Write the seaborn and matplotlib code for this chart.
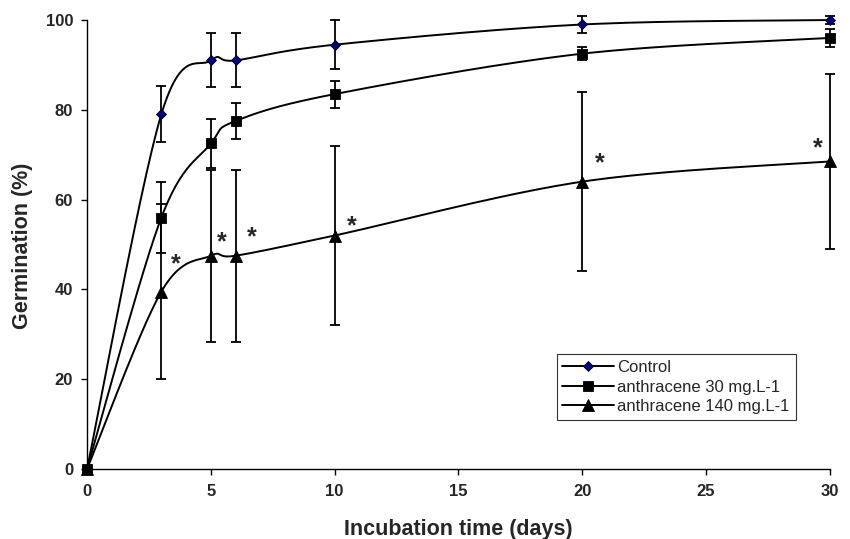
import numpy as np
import pandas as pd
import matplotlib
matplotlib.use("Agg")
import matplotlib.pyplot as plt
import seaborn as sns

# Data
days = [0, 3, 5, 6, 10, 20, 30]
control = [0, 79, 91, 91, 94.5, 99, 100]
control_err = [0, 6.2, 6, 6, 5.5, 1.8, 0.8]
anth30 = [0, 56, 72.5, 77.5, 83.5, 92.5, 96]
anth30_err = [0, 8, 5.5, 4, 3, 1.5, 2]
anth140 = [0, 39.5, 47.5, 47.5, 52, 64, 68.5]
anth140_err = [0, 19.5, 19.2, 19.2, 20, 20, 19.5]
star_x = [3.6, 5.45, 6.65, 10.7, 20.7, 29.5]
star_y = [45.5, 50.5, 51.5, 54, 68, 71.5]

series = [
    ("Control", control, control_err, "D", "#000080", 4.8),
    ("anthracene 30 mg.L-1", anth30, anth30_err, "s", "black", 7.5),
    ("anthracene 140 mg.L-1", anth140, anth140_err, "^", "black", 8),
]


def smooth(x, y, n=30):
    """Excel-like smoothed line (Catmull-Rom bezier)."""
    x = np.asarray(x, float)
    y = np.asarray(y, float)
    px = np.concatenate([[x[0]], x, [x[-1]]])
    py = np.concatenate([[y[0]], y, [y[-1]]])
    xs, ys = [], []
    t = np.linspace(0, 1, n)
    for i in range(1, len(px) - 2):
        p0 = np.array([px[i], py[i]])
        p3 = np.array([px[i + 1], py[i + 1]])
        c1 = p0 + (np.array([px[i + 1], py[i + 1]]) - np.array([px[i - 1], py[i - 1]])) / 6
        c2 = p3 - (np.array([px[i + 2], py[i + 2]]) - p0) / 6
        b = ((1 - t) ** 3)[:, None] * p0 + (3 * (1 - t) ** 2 * t)[:, None] * c1 \
            + (3 * (1 - t) * t ** 2)[:, None] * c2 + (t ** 3)[:, None] * p3
        xs.extend(b[:, 0])
        ys.extend(b[:, 1])
    return np.array(xs), np.array(ys)


sns.set_style("white")
plt.rcParams["font.family"] = ["Liberation Sans", "DejaVu Sans"]

fig = plt.figure(figsize=(8.5, 5.39), dpi=100)
ax = fig.add_axes([0.1024, 0.1299, 0.874, 0.833])

handles = []
for name, vals, err, mk, col, ms in series:
    sx, sy = smooth(days, vals)
    df = pd.DataFrame({"x": sx, "y": sy})
    sns.lineplot(data=df, x="x", y="y", ax=ax, color="black", lw=1.4,
                 sort=False, estimator=None)
    eb = ax.errorbar(days, vals, yerr=err, fmt="none", ecolor="black",
                     elinewidth=1.3, capsize=3.6, capthick=1.3, zorder=3)
    for art in eb.lines[1] + eb.lines[2]:
        art.set_clip_on(False)
    ax.plot(days, vals, linestyle="none", marker=mk, markersize=ms,
            markerfacecolor=col, markeredgecolor="black", markeredgewidth=0.6,
            zorder=4, clip_on=False)
    h, = ax.plot([], [], color="black", lw=1.4, marker=mk, markersize=ms,
                 markerfacecolor=col, markeredgecolor="black",
                 markeredgewidth=0.6, label=name)
    handles.append(h)

for ln in ax.get_lines():
    ln.set_clip_on(False)

for sxx, syy in zip(star_x, star_y):
    ax.text(sxx, syy, "*", fontsize=18, fontweight="bold", ha="center",
            va="center")

ax.set_xlim(0, 30)
ax.set_ylim(0, 100)
ax.set_xticks(range(0, 31, 5))
ax.set_yticks(range(0, 101, 20))
for lab in ax.get_xticklabels() + ax.get_yticklabels():
    lab.set_fontweight("bold")
ax.tick_params(axis="both", labelsize=12, length=4, width=1, color="black",
               direction="out")
ax.tick_params(axis="x", bottom=True, pad=7)
ax.tick_params(axis="y", left=True, pad=6)
for s in ["top", "right"]:
    ax.spines[s].set_visible(False)
for s in ["left", "bottom"]:
    ax.spines[s].set_color("black")
    ax.spines[s].set_linewidth(1)

ax.set_xlabel("Incubation time (days)", fontsize=15.5, fontweight="bold")
ax.set_ylabel("Germination (%)", fontsize=15.5, fontweight="bold")
ax.xaxis.set_label_coords(0.5, -0.112)
ax.yaxis.set_label_coords(-0.073, 0.497)

leg = ax.legend(handles=handles, loc="lower left",
                bbox_to_anchor=(0.632, 0.109), fontsize=12, frameon=True,
                fancybox=False, edgecolor="black", handlelength=3.1,
                borderpad=0.35, labelspacing=0.28, handletextpad=0.2,
                borderaxespad=0)
leg.get_frame().set_linewidth(0.8)

fig.savefig("out.png", dpi=100)
